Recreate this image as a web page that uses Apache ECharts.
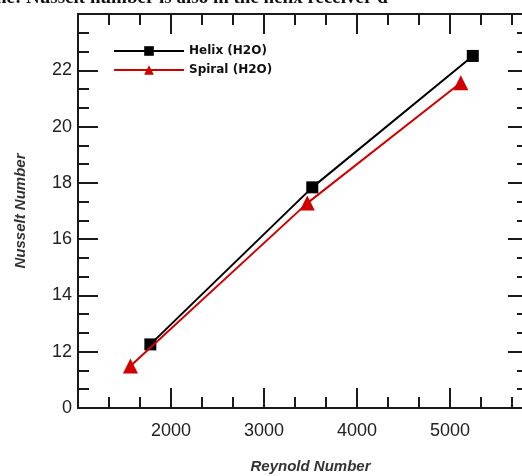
<!DOCTYPE html>
<html>
<head>
<meta charset="utf-8">
<script src="https://cdn.jsdelivr.net/npm/echarts@6/dist/echarts.min.js"></script>
<style>
  html, body { margin: 0; padding: 0; background: #fff; }
  #chart { width: 522px; height: 476px; }
</style>
</head>
<body>
<div id="chart"></div>
<script>
// Reynold number / Nusselt number pairs for the two receivers
const helixRe = [1778, 3519, 5245];
const helixNu = [12.26, 17.84, 22.51];
const spiralRe = [1564, 3466, 5116];
const spiralNu = [11.49, 17.28, 21.56];

const seriesNames = ['Helix (H2O)', 'Spiral (H2O)'];
const xTickLabels = ['2000', '3000', '4000', '5000'];
const yTickLabels = ['0', '12', '14', '16', '18', '20', '22'];
const captionText = 'he: Nusselt number is also in the helix receiver d';

const axisColor = '#1a1a1a';
const labelFont = 'Liberation Sans, Arial, sans-serif';

function pairs(xs, ys) { return xs.map((x, i) => [x, ys[i]]); }

// y axis is broken: the bottom tick (value 10) carries the label "0"
function yLabel(v) {
  const i = Math.round((v - 10) / 2);
  return (i >= 0 && i < yTickLabels.length) ? yTickLabels[i] : '';
}
function xLabel(v) {
  const s = String(Math.round(v));
  return xTickLabels.indexOf(s) >= 0 ? s : '';
}

const tickCommon = {
  axisLine: { show: true, onZero: false, lineStyle: { color: axisColor, width: 2 } },
  axisTick: { show: true, inside: true, length: 20, lineStyle: { color: axisColor, width: 2 } },
  minorTick: { show: true, splitNumber: 3, length: 11, lineStyle: { color: axisColor, width: 2 } },
  splitLine: { show: false },
  minorSplitLine: { show: false }
};

const chart = echarts.init(document.getElementById('chart'), null, { renderer: 'canvas' });
chart.setOption({
  animation: false,
  backgroundColor: '#ffffff',
  grid: { left: 78, right: -21, top: 14, bottom: 68, containLabel: false, outerBoundsMode: 'none' },
  legend: {
    left: 113, top: 45, orient: 'vertical', padding: 0,
    itemWidth: 70, itemHeight: 12, itemGap: 7,
    textStyle: { fontFamily: 'DejaVu Sans', fontWeight: 'bold', fontSize: 12, color: '#111' },
    data: seriesNames
  },
  xAxis: [
    Object.assign({
      type: 'value', position: 'bottom', min: 1000, max: 6000, interval: 1000,
      name: 'Reynold Number', nameLocation: 'middle', nameGap: 51,
      nameTextStyle: { fontFamily: labelFont, fontStyle: 'italic', fontWeight: 'bold', fontSize: 15, color: '#333' },
      axisLabel: { formatter: xLabel, margin: 14, fontFamily: labelFont, fontSize: 18, color: '#222' }
    }, tickCommon),
    Object.assign({
      type: 'value', position: 'top', min: 1000, max: 6000, interval: 1000,
      axisLabel: { show: false }
    }, tickCommon)
  ],
  yAxis: [
    Object.assign({
      type: 'value', position: 'left', min: 10, max: 24, interval: 2,
      name: 'Nusselt Number', nameLocation: 'middle', nameGap: 50,
      nameTextStyle: { fontFamily: labelFont, fontStyle: 'italic', fontWeight: 'bold', fontSize: 15, color: '#333' },
      axisLabel: { formatter: yLabel, margin: 6, fontFamily: labelFont, fontSize: 18, color: '#222' }
    }, tickCommon),
    Object.assign({
      type: 'value', position: 'right', offset: -15, min: 10, max: 24, interval: 2,
      axisLabel: { show: false }
    }, tickCommon)
  ],
  series: [
    {
      name: seriesNames[0], type: 'line', data: pairs(helixRe, helixNu),
      symbol: 'rect', symbolSize: 12,
      lineStyle: { color: '#000', width: 2 },
      itemStyle: { color: '#000' },
      z: 3
    },
    {
      name: seriesNames[1], type: 'line', data: pairs(spiralRe, spiralNu),
      symbol: 'triangle', symbolSize: 15,
      lineStyle: { color: '#d00000', width: 2 },
      itemStyle: { color: '#d00000' },
      z: 4
    }
  ],
  graphic: [{
    type: 'text', left: -4, top: -11,
    style: { text: captionText, font: 'bold 19px "Liberation Serif", serif', fill: '#111' }
  }]
});
</script>
</body>
</html>
